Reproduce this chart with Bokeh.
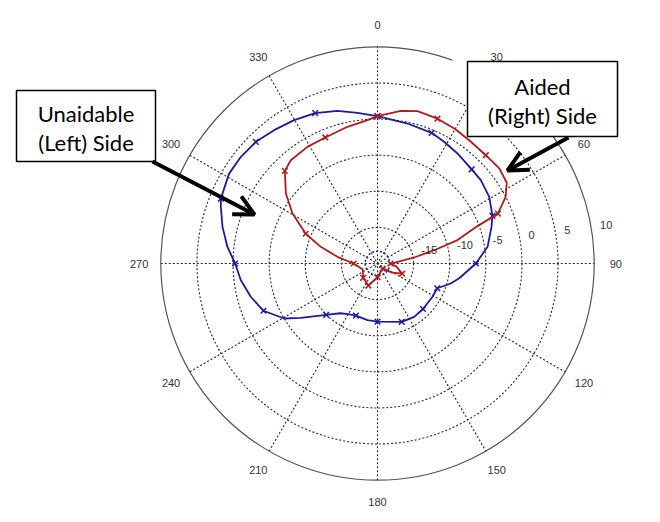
import numpy as np
from bokeh.plotting import figure
from bokeh.models import Range1d, Arrow, OpenHead
from bokeh.core.properties import value
from bokeh.embed import file_html
from bokeh.resources import INLINE

# ---------------- data ----------------
angle_ticks = [0, 30, 60, 90, 120, 150, 180, 210, 240, 270, 300, 330]
angle_labels = ["0", "30", "60", "90", "120", "150", "180", "210", "240", "270", "300", "330"]
r_ticks = [-15, -10, -5, 0, 5, 10]
r_labels = ["-15", "-10", "-5", "0", "5", "10"]
R_MIN, R_MAX = -20, 10

# Unaidable (left) side - blue, angle in degrees (clockwise from top), level in dB
blue_line_deg = [0, 12.1, 22.5, 28.7, 36, 45, 51.1, 59.2, 67.5, 72.2, 81.4, 90, 100.2, 105.3,
                 112.5, 121.2, 135, 145.5, 157.5, 180, 190, 202.5, 210, 216.8, 225, 234.7,
                 239.5, 247.5, 255.3, 263, 270, 276.3, 283.3, 289.9, 292.5, 301.2, 308, 315,
                 322.2, 329.8, 337.5, 345.3, 352.4, 360]
blue_line_db = [0.4, -0.18, -0.42, -0.79, -1.17, -1.56, -1.62, -1.99, -2.78, -3.42, -4.59, -6.38,
                -8.5, -9.5, -11.05, -11.1, -11.09, -11.04, -11.25, -11.95, -12.03, -12.2, -11.9,
                -11.4, -9.95, -6.99, -5.0, -2.91, -1.86, -0.94, -0.29, 0.9, 2.05, 3.07, 3.48,
                4.02, 4.0, 3.82, 3.36, 2.96, 2.54, 1.85, 1.05, 0.4]
blue_mark_deg = [0, 22.5, 45, 67.5, 90, 112.5, 135, 157.5, 180, 202.5, 225, 247.5, 270, 292.5, 315, 337.5]
blue_mark_db = [0.4, -0.42, -1.56, -2.78, -6.38, -11.05, -11.09, -11.25, -11.95, -12.2, -9.95,
                -2.91, -0.29, 3.48, 3.82, 2.54]

# Aided (right) side - red
red_line_deg = [0, 8.7, 14.7, 22.5, 30, 37.5, 45, 52, 58, 62.5, 67.5, 69.5, 73.7, 76.8, 80.7,
                87.7, 90, 100, 112.5, 122, 135, 157.5, 180, 202.5, 225, 247.5, 270, 279.5,
                286.4, 292.5, 300.5, 307.4, 315, 320, 329, 337.5, 347.6, 356, 360]
red_line_db = [0.4, 1.38, 1.8, 1.7, 1.5, 1.25, 1.2, 1.4, 1.1, 0.0, -1.96, -5.22, -8.46, -11.94,
               -14.85, -17.7, -18.2, -17.3, -16.3, -17.6, -19.0, -18.8, -18.1, -16.7, -17.2,
               -17.8, -16.7, -14.38, -11.82, -9.24, -6.35, -4.03, -1.86, -1.33, -1.16, -1.11,
               -0.62, -0.11, 0.4]
red_mark_deg = [0, 22.5, 45, 67.5, 90, 112.5, 135, 180, 202.5, 225, 270, 292.5, 315, 337.5]
red_mark_db = [0.4, 1.7, 1.2, -1.96, -18.2, -16.3, -19.0, -18.1, -16.7, -17.2, -16.7, -9.24, -1.86, -1.11]

inner_circle_db = -18.3

# ---------------- layout ----------------
W, H = 660, 522
CX, CY = 377, 263
RPX = 216.7

def rad(db):
    return (np.asarray(db, dtype=float) - R_MIN) / (R_MAX - R_MIN) * RPX

def xy(deg, db):
    t = np.deg2rad(np.asarray(deg, dtype=float))
    r = rad(db)
    return CX + r * np.sin(t), CY - r * np.cos(t)

p = figure(width=W, height=H, x_range=Range1d(0, W), y_range=Range1d(H, 0),
           output_backend="svg", toolbar_location=None, min_border=0)
p.axis.visible = False
p.grid.visible = False
p.outline_line_color = None
p.background_fill_color = "white"

grid_col = "#2a2a2a"
# dotted rings
ring_r = [float(rad(v)) for v in r_ticks[:-1]]
p.circle(x=[CX] * len(ring_r), y=[CY] * len(ring_r), radius=ring_r, fill_alpha=0,
         line_color=grid_col, line_dash="2 2", line_width=1.1)
# spokes
for a in angle_ticks[:6]:
    t = np.deg2rad(a)
    p.line([CX - RPX * np.sin(t), CX + RPX * np.sin(t)], [CY + RPX * np.cos(t), CY - RPX * np.cos(t)],
           line_color=grid_col, line_dash="2 2", line_width=1.1)
# outer circle
p.circle(x=[CX], y=[CY], radius=[RPX], fill_alpha=0, line_color="#555555", line_width=1.2)

blue = "#1b1ba3"
red = "#b31b1b"

# inner dotted blue circle
p.circle(x=[CX], y=[CY], radius=[float(rad(inner_circle_db))], fill_alpha=0,
         line_color=blue, line_dash="2 2", line_width=1.5)

bx, by = xy(blue_line_deg, blue_line_db)
p.line(bx, by, line_color=blue, line_width=1.8)
bmx, bmy = xy(blue_mark_deg, blue_mark_db)
p.scatter(bmx, bmy, marker="x", size=8, line_color=blue, line_width=1.5)

rx, ry = xy(red_line_deg, red_line_db)
p.line(rx, ry, line_color=red, line_width=1.8)
rmx, rmy = xy(red_mark_deg, red_mark_db)
p.scatter(rmx, rmy, marker="x", size=8, line_color=red, line_width=1.5)

# white margin around the right-hand callout (hides part of the outer circle)
p.quad(left=[452], right=[470], top=[57], bottom=[75], fill_color="white", line_color=None)

# angle labels
t = np.deg2rad(np.array(angle_ticks, dtype=float))
p.text(x=CX + 1.1 * RPX * np.sin(t), y=CY - 1.1 * RPX * np.cos(t), text=angle_labels,
       text_font=value("Liberation Sans"), text_font_size="11px", text_color="#333333",
       text_align="center", text_baseline="middle")
# radial labels at 82 deg
ta = np.deg2rad(82.0)
rr = rad(r_ticks)
p.text(x=CX + rr * np.sin(ta), y=CY - rr * np.cos(ta), text=r_labels,
       text_font=value("Liberation Sans"), text_font_size="11px", text_color="#333333",
       text_align="left", text_baseline="middle", x_offset=8, y_offset=-8)

# annotation boxes
p.quad(left=[16, 467], right=[155, 617], top=[90, 61], bottom=[161, 136],
       fill_color="white", line_color="black", line_width=1.5)
p.text(x=[85.5, 85.5, 542, 542], y=[113, 142, 86, 115],
       text=["Unaidable", "(Left) Side", "Aided", "(Right) Side"],
       text_font=value("Lato"), text_font_size="22px", text_color="black",
       text_align="center", text_baseline="middle")

p.add_layout(Arrow(end=OpenHead(size=20, line_width=4, line_color="black"),
                   x_start=152, y_start=161, x_end=254, y_end=214,
                   line_width=4, line_color="black"))
p.add_layout(Arrow(end=OpenHead(size=20, line_width=4, line_color="black"),
                   x_start=568, y_start=137, x_end=507, y_end=170,
                   line_width=4, line_color="black"))

open("out.html", "w").write(file_html(p, INLINE))
